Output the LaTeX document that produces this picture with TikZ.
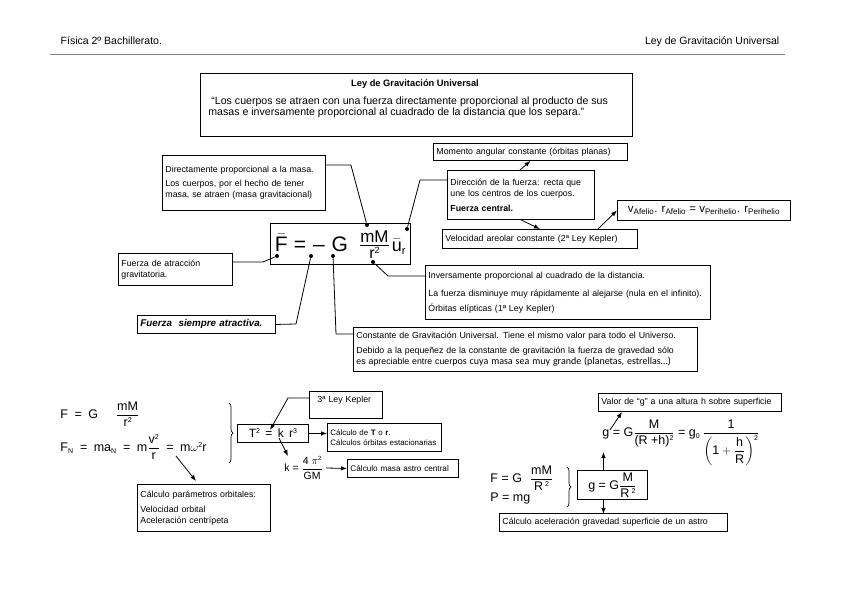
\documentclass[tikz,border=0pt]{standalone}
\usepackage{amsmath}
\usepackage{fontspec}
\setmainfont{Liberation Sans}
\newfontfamily\calibri{Carlito}
\usetikzlibrary{arrows.meta,decorations.pathreplacing}
\definecolor{cabeceragris}{RGB}{130,130,130}
\newcommand\peq[1]{\hbox{\fontsize{7}{7}\selectfont #1}}
\newcommand\elev[1]{\raisebox{4pt}{\fontsize{7}{7}\selectfont #1}}
\newcommand\fraccion[2]{\genfrac{}{}{0.6pt}{0}{\hbox{#1}}{\hbox{#2}}}

\begin{document}
\begin{tikzpicture}[x=1pt,y=-1pt,line width=0.8pt]
            \tikzstyle{every node}=[font=\fontsize{8.8}{11}\selectfont]
            \tikzstyle{caja}=[draw, line width=0.9pt, anchor=north west, align=left, inner sep=3pt]
            \tikzstyle{punto}=[circle, fill, inner sep=0pt, minimum size=4pt]
            \tikzstyle{flecha}=[-{Latex[length=6pt,width=4.5pt]}]
            \tikzstyle{llave}=[decorate, decoration={brace, amplitude=4pt}, line width=0.7pt]
            \tikzstyle{formula}=[anchor=west, inner sep=0pt, font=\fontsize{12.5}{14}\selectfont]
            \useasboundingbox (0,0) rectangle (848,599);
            % cabecera
            \node[anchor=base west, font=\fontsize{10.5}{12}\selectfont] (asig) at (57,45) {Física 2º Bachillerato.};
            \node[anchor=base east, font=\fontsize{10.5}{12}\selectfont] (tema) at (783,45) {Ley de Gravitación Universal};
            \draw[cabeceragris] (50,54) -- (785,54);
            % enunciado
            \node[caja, minimum width=432, minimum height=63] (titulo) at (200,73) {};
            \node[font=\bfseries\fontsize{9.3}{11}\selectfont] (tit) at (415,84) {Ley de Gravitación Universal};
            \node[anchor=north west, align=left, inner sep=0pt, font=\fontsize{10.6}{11.5}\selectfont] (cita) at (208,96) {\hspace*{3pt}“Los cuerpos se atraen con una fuerza directamente proporcional al producto de sus\\masas e inversamente proporcional al cuadrado de la distancia que los separa.”};
            % ecuacion principal
            \node[caja, minimum width=140, minimum height=41, align=center, inner sep=0pt] (ley) at (270,223)
                {\fontsize{21}{22}\selectfont\rule{0pt}{22pt}$\bar{\hbox{F}}$\hspace{6pt}=\hspace{7pt}–\hspace{7pt}G\hspace{11pt}$\genfrac{}{}{1pt}{1}{\hbox{\fontsize{17}{17}\selectfont mM}}{\hbox{\fontsize{16}{16}\selectfont r\raisebox{5pt}{\fontsize{9}{9}\selectfont 2}}}$\hspace{2pt}$\bar{\hbox{\fontsize{18}{18}\selectfont u}}_{\hbox{\fontsize{11}{11}\selectfont r}}$};
            \node[punto] (pF) at (277,256) {};
            \node[punto] (pmenos) at (311,256) {};
            \node[punto] (pG) at (333,256) {};
            \node[punto] (pmM) at (367,225) {};
            \node[punto] (pu) at (407,229) {};
            \node[punto] (pr) at (373,262) {};
            % cajas de la ecuacion
            \node[caja, text width=157, minimum height=55] (masa) at (162,155) {Directamente proporcional a la masa.\\[3pt] Los cuerpos, por el hecho de tener\\ masa, se atraen (masa gravitacional)};
            \node[caja, text width=188, minimum height=17] (momento) at (433,143) {Momento angular constante (órbitas planas)};
            \node[caja, text width=141, minimum height=49] (direccion) at (447,170) {Dirección de la fuerza: recta que\\ une los centros de los cuerpos.\\[4pt] \textbf{Fuerza central.}};
            \node[caja, text width=189, minimum height=19] (areolar) at (442,229) {Velocidad areolar constante (2ª Ley Kepler)};
            \node[caja, minimum width=173, minimum height=20, align=center, inner sep=0pt, font=\fontsize{11.5}{13}\selectfont] (velocidades) at (617,200) {v\textsubscript{Afelio}. r\textsubscript{Afelio} = v\textsubscript{Perihelio}. r\textsubscript{Perihelio}};
            \node[caja, text width=108, minimum height=32] (atraccion) at (118,253) {Fuerza de atracción\\ gravitatoria.};
            \node[caja, text width=132, minimum height=18, font=\bfseries\itshape\fontsize{9.8}{11}\selectfont] (siempre) at (137,315) {Fuerza\ \ siempre atractiva.};
            \node[caja, text width=279, minimum height=54] (inversa) at (425,265) {Inversamente proporcional al cuadrado de la distancia.\\[7pt] La fuerza disminuye muy rápidamente al alejarse (nula en el infinito).\\[4pt] Órbitas elípticas (1ª Ley Kepler)};
            \node[caja, text width=338, minimum height=44] (constante) at (353,327) {Constante de Gravitación Universal. Tiene el mismo valor para todo el Universo.\\[4pt] Debido a la pequeñez de la constante de gravitación la fuerza de gravedad sólo\\ es apreciable entre cuer{\calibri\fontsize{10}{11}\selectfont pos cuya masa sea muy grande (planetas, estrellas…)}};

            \draw ([yshift=-10pt]masa.north east) -- ++(25,0) -- (pmM);
            \draw (pu) -- ++(13,-49) -- ([yshift=-10pt]direccion.north west);
            \draw (pF) -- ++(-14,6) -- ([yshift=-9pt]atraccion.north east);
            \draw (pmenos) -- ++(-15,68) -- (siempre.east);
            \draw (pG) -- ++(3,78) -- ([yshift=-7pt]constante.north west);
            \draw (pr) -- ++(15,14) -- ([yshift=-11pt]inversa.north west);
            \draw[flecha] ([xshift=-1pt]direccion.north) -- (momento.south);
            \draw[flecha] (direccion.south) -- (areolar.north);
            \draw[flecha] ([xshift=-40pt]areolar.north east) -- (velocidades.west);

            % tercera ley de Kepler
            \node[formula] (fuerza) at (60,414) {F\hspace{3pt} = \hspace{3pt}G\hspace{18pt}$\fraccion{mM}{r\elev{2}}$};
            \node[formula] (normal) at (60,447) {F$_{\peq{N}}$\hspace{3pt} = \hspace{3pt}ma$_{\peq{N}}$\hspace{3pt} = \hspace{3pt}m$\fraccion{v\elev{2}}{r}$\hspace{3pt} = \hspace{3pt}m$\omega$\elev{2}r};
            \draw[llave] (229,403) -- (229,463);
            \node[caja, minimum width=71, minimum height=18, align=center, inner sep=0pt, font=\fontsize{12}{13}\selectfont] (kepler3) at (237,424) {T\elev{2}\,\ =\ \,k\ \,r\elev{3}};
            \node[caja, text width=67, minimum height=27] (ley3) at (309,391) {\hspace*{5pt}3ª Ley Kepler\\ \mbox{}};
            \coordinate (igual) at (270,430);
            \coordinate (kk) at (279,438);
            \coordinate (pv) at (176,456);
            \node[caja, text width=108, minimum height=28, font=\fontsize{7.9}{10}\selectfont] (calculoT) at (327,423) {Cálculo de \textbf{T} o \textbf{r}.\\ Cálculos órbitas estacionarias};
            \node[anchor=west, inner sep=0pt, font=\fontsize{10.5}{12}\selectfont] (constk) at (284,468) {k = $\fraccion{4 $\pi$\raisebox{4pt}{\fontsize{6}{6}\selectfont 2}}{GM}$};
            \node[caja, text width=105, minimum height=18, font=\fontsize{8.2}{10}\selectfont] (astro) at (347,459) {Cálculo masa astro central};
            \node[caja, text width=127, minimum height=47] (parametros) at (137,484) {Cálculo parámetros orbitales:\\[4pt] Velocidad orbital\\ Aceleración centrípeta};

            \draw[flecha] ([yshift=-7pt]ley3.north west) -- ++(-21,0) -- (igual);
            \draw[flecha] (kepler3.east) -- (kepler3.east -| calculoT.west);
            \draw[flecha] (kk) -- ([xshift=4pt]constk.north west);
            \draw[flecha] ([xshift=3pt]constk.east) -- (astro.west);
            \draw[flecha] (pv) -- ([xshift=-8pt,yshift=3pt]parametros.north);

            % gravedad en la superficie
            \node[caja, text width=177, minimum height=18] (altura) at (598,393) {Valor de “g” a una altura h sobre superficie};
            \node[formula] (galtura) at (602,443) {g = G$\fraccion{M}{(R +h)\elev{2}}$ = g$_{\peq{0}}$\,$\genfrac{}{}{0.6pt}{0}{\hbox{1}}{\left(\hbox{1}+\fraccion{h}{R}\right)^{\peq{2}}}$};
            \node[caja, minimum width=70, minimum height=29, align=center, inner sep=0pt, font=\fontsize{12.5}{14}\selectfont] (gsup) at (577,470) {g = G$\fraccion{M}{R\,\elev{2}}$};
            \node[formula] (fsup) at (490,478) {F = G\hspace{8pt}$\fraccion{mM}{R\,\elev{2}}$};
            \node[formula] (peso) at (490,498) {P = mg};
            \draw[llave] (567,467) -- (567,507);
            \node[caja, text width=222, minimum height=18] (acel) at (499,513) {Cálculo aceleración gravedad superficie\ de un astro};
            \coordinate (gsal) at (610,430);

            \draw[flecha] (gsal) -- ([xshift=24pt]altura.south west);
            \draw[flecha] ([xshift=-9pt]gsup.north) -- ++(0,-18);
            \draw[flecha] ([xshift=-9pt]gsup.south) -- ++(0,14);
          \end{tikzpicture}
\end{document}
